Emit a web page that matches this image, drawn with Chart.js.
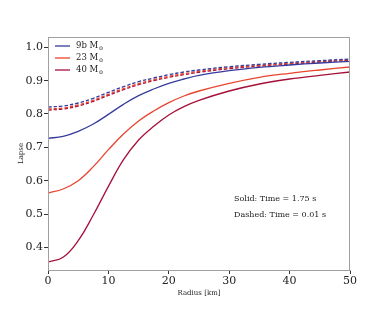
<!DOCTYPE html>
<html>
<head>
<meta charset="utf-8">
<script src="https://cdn.jsdelivr.net/npm/chart.js@4/dist/chart.umd.min.js"></script>
<style>
  html, body { margin: 0; padding: 0; background: #fff; }
  #wrap { width: 390px; height: 312px; }
</style>
</head>
<body>
<div id="wrap"><canvas id="lapseChart" width="390" height="312"></canvas></div>
<script>
const radius = [0, 2.5, 5, 7.5, 10, 12.5, 15, 17.5, 20, 22.5, 25, 30, 35, 40, 45, 50];

// solid: t = 1.75 s
const m9bLate = [0.727, 0.733, 0.748, 0.770, 0.799, 0.829, 0.855, 0.875, 0.892, 0.905, 0.916, 0.930, 0.940, 0.947, 0.953, 0.958];
const m23Late = [0.563, 0.575, 0.600, 0.642, 0.693, 0.740, 0.779, 0.809, 0.834, 0.854, 0.869, 0.892, 0.910, 0.922, 0.932, 0.941];
const m40Late = [0.356, 0.370, 0.420, 0.497, 0.583, 0.663, 0.722, 0.763, 0.797, 0.822, 0.841, 0.869, 0.890, 0.905, 0.916, 0.926];

// dashed: t = 0.01 s
const m9bEarly = [0.821, 0.824, 0.833, 0.847, 0.865, 0.882, 0.897, 0.908, 0.918, 0.926, 0.932, 0.942, 0.949, 0.955, 0.960, 0.965];
const m23Early = [0.815, 0.818, 0.827, 0.841, 0.859, 0.876, 0.891, 0.903, 0.913, 0.921, 0.928, 0.939, 0.946, 0.952, 0.958, 0.963];
const m40Early = [0.812, 0.815, 0.824, 0.838, 0.856, 0.873, 0.888, 0.900, 0.910, 0.918, 0.925, 0.936, 0.944, 0.950, 0.956, 0.961];

const legendLabels = ["9b M", "23 M", "40 M"];
const xTicks = [0, 10, 20, 30, 40, 50];
const yTicks = [0.4, 0.5, 0.6, 0.7, 0.8, 0.9, 1.0];
const notes = [
  { x: 30.8, y: 0.545, text: "Solid: Time = 1.75 s" },
  { x: 30.8, y: 0.497, text: "Dashed: Time = 0.01 s" },
];

const colors = ["#363b9c", "#e8452f", "#a5103a"];
const serif = "'DejaVu Serif', 'Liberation Serif', serif";

const pts = (vals) => radius.map((r, i) => ({ x: r, y: vals[i] }));

function line(label, vals, color, dashed) {
  return {
    label,
    data: pts(vals),
    borderColor: color,
    borderWidth: 1.3,
    borderDash: dashed ? [3.5, 2] : [],
    pointRadius: 0,
    fill: false,
    tension: 0.4,
  };
}

const framePlugin = {
  id: "frame",
  afterDraw(chart) {
    const { ctx, chartArea: a, scales } = chart;
    ctx.save();
    ctx.strokeStyle = "#a0a0a0";
    ctx.lineWidth = 1;
    ctx.strokeRect(a.left + 0.5, a.top + 0.5, a.right - a.left - 1, a.bottom - a.top);

    // legend, top-left inside the plot, with a small subscript sun symbol
    ctx.textBaseline = "middle";
    legendLabels.forEach((lab, i) => {
      const y = a.top + 9 + i * 12;
      ctx.strokeStyle = colors[i];
      ctx.lineWidth = 1.3;
      ctx.beginPath();
      ctx.moveTo(a.left + 7, y);
      ctx.lineTo(a.left + 22, y);
      ctx.stroke();
      ctx.fillStyle = "#222";
      ctx.font = "8.5px " + serif;
      ctx.fillText(lab, a.left + 28, y);
      const w = ctx.measureText(lab).width;
      ctx.font = "5.5px " + serif;
      ctx.fillText("\u2299", a.left + 28 + w + 0.5, y + 2.5);
    });

    // annotation
    ctx.font = "8px " + serif;
    ctx.fillStyle = "#222";
    notes.forEach((n) => {
      ctx.fillText(n.text, scales.x.getPixelForValue(n.x), scales.y.getPixelForValue(n.y));
    });
    ctx.restore();
  },
};

new Chart(document.getElementById("lapseChart"), {
  type: "line",
  data: {
    datasets: [
      line(legendLabels[0], m9bLate, colors[0], false),
      line(legendLabels[1], m23Late, colors[1], false),
      line(legendLabels[2], m40Late, colors[2], false),
      line(legendLabels[0] + " early", m9bEarly, colors[0], true),
      line(legendLabels[1] + " early", m23Early, colors[1], true),
      line(legendLabels[2] + " early", m40Early, colors[2], true),
    ],
  },
  options: {
    responsive: false,
    animation: false,
    layout: { padding: { left: 14, right: 40, top: 37, bottom: 14 } },
    plugins: { legend: { display: false }, tooltip: { enabled: false } },
    scales: {
      x: {
        type: "linear",
        min: 0,
        max: 50,
        afterBuildTicks: (s) => { s.ticks = xTicks.map((v) => ({ value: v })); },
        afterFit: (s) => { s.height = 28; },
        grid: { drawOnChartArea: false, tickLength: 4, color: "#333", tickWidth: 1 },
        border: { color: "#a0a0a0" },
        ticks: { color: "#222", font: { family: serif, size: 11 }, padding: 1, maxRotation: 0 },
        title: { display: true, text: "Radius [km]", color: "#222", font: { family: serif, size: 7 }, padding: { top: 0, bottom: 1 } },
      },
      y: {
        type: "linear",
        min: 0.332,
        max: 1.031,
        afterBuildTicks: (s) => { s.ticks = yTicks.map((v) => ({ value: v })); },
        afterFit: (s) => { s.width = 34; },
        grid: { drawOnChartArea: false, tickLength: 4, color: "#333", tickWidth: 1 },
        border: { color: "#a0a0a0" },
        ticks: { color: "#222", font: { family: serif, size: 11 }, padding: 1, callback: (v) => v.toFixed(1) },
        title: { display: true, text: "Lapse", color: "#222", font: { family: serif, size: 7 }, padding: { top: 3, bottom: 0 } },
      },
    },
  },
  plugins: [framePlugin],
});
</script>
</body>
</html>
